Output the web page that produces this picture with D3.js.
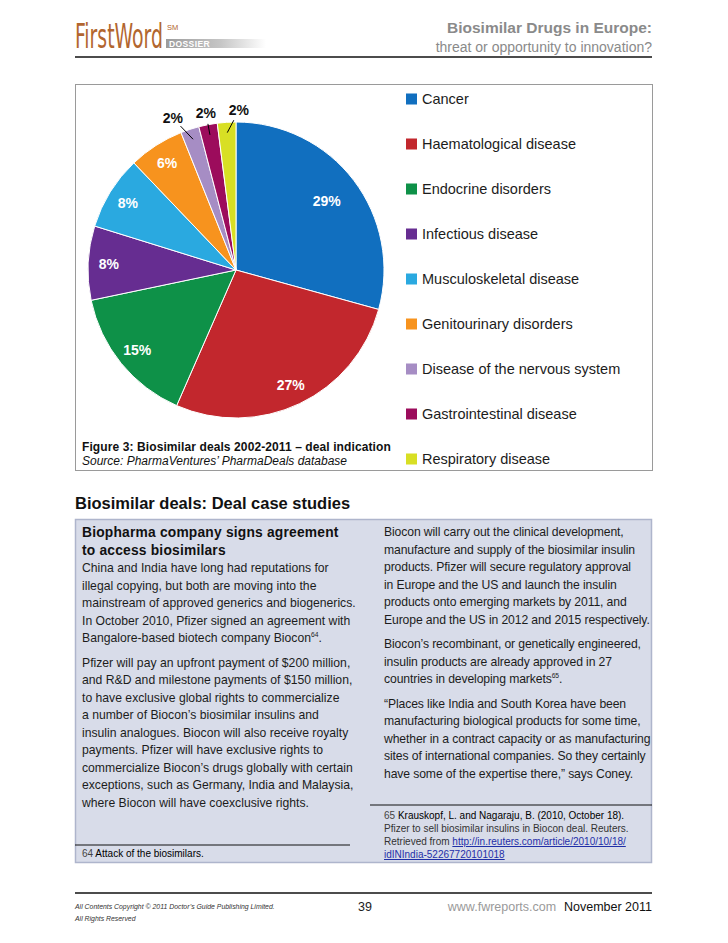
<!DOCTYPE html>
<html>
<head>
<meta charset="utf-8">
<script src="https://cdn.jsdelivr.net/npm/d3@7"></script>
<style>
  body { margin: 0; background: #fff; }
  svg { display: block; font-family: "Liberation Sans", Arial, Helvetica, sans-serif; }
</style>
</head>
<body>
<svg id="page" width="728" height="943"></svg>
<script>
// chart data
const categories = ['Cancer', 'Haematological disease', 'Endocrine disorders', 'Infectious disease',
  'Musculoskeletal disease', 'Genitourinary disorders', 'Disease of the nervous system',
  'Gastrointestinal disease', 'Respiratory disease'];
const shares = [29, 27, 15, 8, 8, 6, 2, 2, 2];
const sliceColors = ['#116fbf', '#c2272d', '#0e9148', '#662d91', '#2aa9e0', '#f7931e', '#a68dc4', '#9c0c5c', '#d8df24'];

// page text
const leftHeading = ['Biopharma company signs agreement', 'to access biosimilars'];
const leftParas = [
  ['China and India have long had reputations for',
   'illegal copying, but both are moving into the',
   'mainstream of approved generics and biogenerics.',
   'In October 2010, Pfizer signed an agreement with',
   'Bangalore-based biotech company Biocon^64^.'],
  ['Pfizer will pay an upfront payment of $200 million,',
   'and R&D and milestone payments of $150 million,',
   'to have exclusive global rights to commercialize',
   'a number of Biocon\u2019s biosimilar insulins and',
   'insulin analogues. Biocon will also receive royalty',
   'payments. Pfizer will have exclusive rights to',
   'commercialize Biocon\u2019s drugs globally with certain',
   'exceptions, such as Germany, India and Malaysia,',
   'where Biocon will have coexclusive rights.']
];
const rightParas = [
  ['Biocon will carry out the clinical development,',
   'manufacture and supply of the biosimilar insulin',
   'products. Pfizer will secure regulatory approval',
   'in Europe and the US and launch the insulin',
   'products onto emerging markets by 2011, and',
   'Europe and the US in 2012 and 2015 respectively.'],
  ['Biocon\u2019s recombinant, or genetically engineered,',
   'insulin products are already approved in 27',
   'countries in developing markets^65^.'],
  ['\u201cPlaces like India and South Korea have been',
   'manufacturing biological products for some time,',
   'whether in a contract capacity or as manufacturing',
   'sites of international companies. So they certainly',
   'have some of the expertise there,\u201d says Coney.']
];

const svg = d3.select('#page');
const ink = '#1c1c1c';

function textLine(g, x, y, str, size, opts = {}) {
  const t = g.append('text').attr('x', x).attr('y', y).attr('font-size', size)
    .attr('fill', opts.fill || ink);
  if (opts.weight) t.attr('font-weight', opts.weight);
  if (opts.style) t.attr('font-style', opts.style);
  if (opts.anchor) t.attr('text-anchor', opts.anchor);
  if (opts.spacing) t.attr('letter-spacing', opts.spacing);
  let lift = 0;
  str.split('^').forEach((seg, i) => {
    if (!seg) return;
    const sp = t.append('tspan').text(seg);
    if (i % 2 === 1) { sp.attr('font-size', size * 0.55).attr('dy', -size * 0.4); lift = size * 0.4; }
    else if (lift) { sp.attr('dy', lift); lift = 0; }
  });
  return t;
}

// ---- header ----
const defs = svg.append('defs');
const grad = defs.append('linearGradient').attr('id', 'dossierGrad');
grad.append('stop').attr('offset', '0%').attr('stop-color', '#9c9c9c');
grad.append('stop').attr('offset', '55%').attr('stop-color', '#c6c6c6');
grad.append('stop').attr('offset', '100%').attr('stop-color', '#ffffff');

// logo squeezed horizontally to 88px, whatever narrow font is available
const logo = svg.append('text').text('FirstWord')
  .attr('font-family', '"Liberation Sans Narrow", "DejaVu Sans Condensed", "Arial Narrow", sans-serif')
  .attr('font-size', 33).attr('fill', '#b2662f');
const logoW = logo.node().getComputedTextLength() || 120;
logo.attr('transform', `translate(75,48) scale(${88 / logoW},1)`);
svg.append('text').attr('x', 167).attr('y', 30).text('SM')
  .attr('font-size', 7.5).attr('fill', '#b2662f');
svg.append('rect').attr('x', 166).attr('y', 39).attr('width', 100).attr('height', 9).attr('fill', 'url(#dossierGrad)');
svg.append('text').attr('x', 169).attr('y', 47).text('DOSSIER')
  .attr('font-size', 8.5).attr('font-weight', 'bold').attr('fill', '#fff').attr('letter-spacing', 0.4);

textLine(svg, 652, 33, 'Biosimilar Drugs in Europe:', 15.5, { weight: 'bold', fill: '#8a8a8a', anchor: 'end' });
textLine(svg, 652, 52, 'threat or opportunity to innovation?', 14, { fill: '#8a8a8a', anchor: 'end' });
svg.append('line').attr('x1', 75).attr('x2', 652).attr('y1', 57).attr('y2', 57)
  .attr('stroke', '#111').attr('stroke-width', 1.4);

// ---- chart frame ----
svg.append('rect').attr('x', 75.5).attr('y', 84.5).attr('width', 577).attr('height', 386)
  .attr('fill', 'none').attr('stroke', '#9a9a9a').attr('stroke-width', 1);

// ---- pie ----
const cx = 236, cy = 270, radius = 148;
const color = d3.scaleOrdinal().domain(categories).range(sliceColors);
const pie = d3.pie().sort(null).value(d => d.value);
const arcs = pie(categories.map((c, i) => ({ name: c, value: shares[i] })));
const arc = d3.arc().innerRadius(0).outerRadius(radius);
const gPie = svg.append('g').attr('transform', `translate(${cx},${cy})`);

gPie.selectAll('path').data(arcs).join('path')
  .attr('d', arc)
  .attr('fill', d => color(d.data.name))
  .attr('stroke', '#fff').attr('stroke-width', 1);

const polar = (a, r) => [Math.sin(a) * r, -Math.cos(a) * r];
const mid = d => (d.startAngle + d.endAngle) / 2;

// inside labels for the larger slices (the widest one sits a bit further in)
const inner = arcs.filter(d => d.data.value >= 5);
const inR = d => radius * (d.data.value === d3.max(shares) ? 0.77 : 0.86);
gPie.selectAll('text.in').data(inner).join('text').attr('class', 'in')
  .attr('x', d => polar(mid(d), inR(d))[0])
  .attr('y', d => polar(mid(d), inR(d))[1])
  .attr('text-anchor', 'middle').attr('dominant-baseline', 'central')
  .attr('font-size', 14).attr('font-weight', 'bold').attr('fill', '#fff')
  .text(d => d.data.value + '%');

// outside labels with leader lines for the small slices, spread apart horizontally
const outer = arcs.filter(d => d.data.value < 5).map(d => {
  const p = polar(mid(d), radius * 1.08);
  return { d, x: p[0], y: p[1] };
});
outer.sort((a, b) => a.x - b.x);
const meanX = d3.mean(outer, o => o.x);
for (let i = 1; i < outer.length; i++) {
  if (outer[i].x - outer[i - 1].x < 33) outer[i].x = outer[i - 1].x + 33;
}
const shift = meanX - d3.mean(outer, o => o.x);
outer.forEach(o => { o.x += shift; });

outer.forEach(o => {
  const tip = polar(mid(o.d), radius * 0.93);
  const dx = tip[0] - o.x, dy = tip[1] - o.y, len = Math.hypot(dx, dy);
  gPie.append('line')
    .attr('x1', o.x + dx / len * 11).attr('y1', o.y + dy / len * 11)
    .attr('x2', tip[0]).attr('y2', tip[1])
    .attr('stroke', '#000').attr('stroke-width', 1);
  gPie.append('text').attr('x', o.x).attr('y', o.y)
    .attr('text-anchor', 'middle').attr('dominant-baseline', 'central')
    .attr('font-size', 14).attr('font-weight', 'bold').attr('fill', '#111')
    .text(o.d.data.value + '%');
});

// ---- legend ----
const ly = d3.scalePoint().domain(categories).range([99, 459]);
const legend = svg.append('g').selectAll('g').data(categories).join('g')
  .attr('transform', d => `translate(406,${ly(d)})`);
legend.append('rect').attr('x', 0).attr('y', -5.5).attr('width', 11).attr('height', 11)
  .attr('fill', d => color(d));
legend.append('text').attr('x', 16).attr('y', 0).attr('dominant-baseline', 'central')
  .attr('font-size', 14.5).attr('fill', ink).text(d => d);

// caption
textLine(svg, 82, 451, 'Figure 3: Biosimilar deals 2002-2011 \u2013 deal indication', 12, { weight: 'bold', fill: '#111', spacing: 0.1 });
textLine(svg, 82, 465, 'Source: PharmaVentures\u2019 PharmaDeals database', 12, { style: 'italic', fill: '#111' });

// ---- case study section ----
textLine(svg, 75, 509, 'Biosimilar deals: Deal case studies', 16.5, { weight: 'bold', fill: '#111' });

svg.append('rect').attr('x', 75.5).attr('y', 519.5).attr('width', 576).attr('height', 343)
  .attr('fill', '#d8dce9').attr('stroke', '#aeb5cc').attr('stroke-width', 1.5);

const body = svg.append('g');
const L = 17.5, bodySize = 12.2;
leftHeading.forEach((s, i) => textLine(body, 82, 537 + i * 18, s, 13.8, { weight: 'bold', fill: '#111', spacing: 0.2 }));

function drawParas(paras, x, y0, gap, spacing) {
  let y = y0;
  paras.forEach(p => {
    p.forEach(s => { textLine(body, x, y, s, bodySize, { spacing }); y += L; });
    y += gap;
  });
}
drawParas(leftParas, 82, 572, 7, 0);
drawParas(rightParas, 384, 536, 7, -0.12);

// footnotes
body.append('line').attr('x1', 75).attr('x2', 350).attr('y1', 845).attr('y2', 845).attr('stroke', '#111').attr('stroke-width', 1);
const f64 = body.append('text').attr('x', 82).attr('y', 857).attr('font-size', 10).attr('fill', ink);
f64.append('tspan').text('64  ').attr('fill', '#444');
f64.append('tspan').text('Attack of the biosimilars.').attr('fill', '#000');

body.append('line').attr('x1', 370).attr('x2', 652).attr('y1', 805).attr('y2', 805).attr('stroke', '#111').attr('stroke-width', 1);
const f65 = body.append('text').attr('x', 384).attr('y', 819).attr('font-size', 10).attr('fill', ink);
f65.append('tspan').text('65  ').attr('fill', '#444');
f65.append('tspan').text('Krauskopf, L. and Nagaraju, B. (2010, October 18).').attr('fill', '#000');
textLine(body, 384, 832, 'Pfizer to sell biosimilar insulins in Biocon deal. Reuters.', 10, { fill: '#333' });
const ret = body.append('text').attr('x', 384).attr('y', 845).attr('font-size', 10).attr('fill', '#333');
ret.append('tspan').text('Retrieved from ');
ret.append('tspan').text('http://in.reuters.com/article/2010/10/18/').attr('fill', '#1f2fa8').attr('text-decoration', 'underline');
body.append('text').attr('x', 384).attr('y', 858).attr('font-size', 10).attr('fill', '#1f2fa8')
  .attr('text-decoration', 'underline').text('idINIndia-52267720101018');

// ---- footer ----
svg.append('line').attr('x1', 75).attr('x2', 652).attr('y1', 893).attr('y2', 893)
  .attr('stroke', '#111').attr('stroke-width', 1.4);
textLine(svg, 75, 909, 'All Contents Copyright \u00a9 2011 Doctor\u2019s Guide Publishing Limited.', 6.9, { style: 'italic', fill: '#333' });
textLine(svg, 75, 921, 'All Rights Reserved', 6.9, { style: 'italic', fill: '#333' });
textLine(svg, 365, 911, '39', 12.5, { fill: '#222', anchor: 'middle' });
textLine(svg, 502, 911, 'www.fwreports.com', 12.5, { fill: '#9a9a9a', anchor: 'middle' });
textLine(svg, 652, 911, 'November 2011', 12.5, { fill: '#111', anchor: 'end' });
</script>
</body>
</html>
